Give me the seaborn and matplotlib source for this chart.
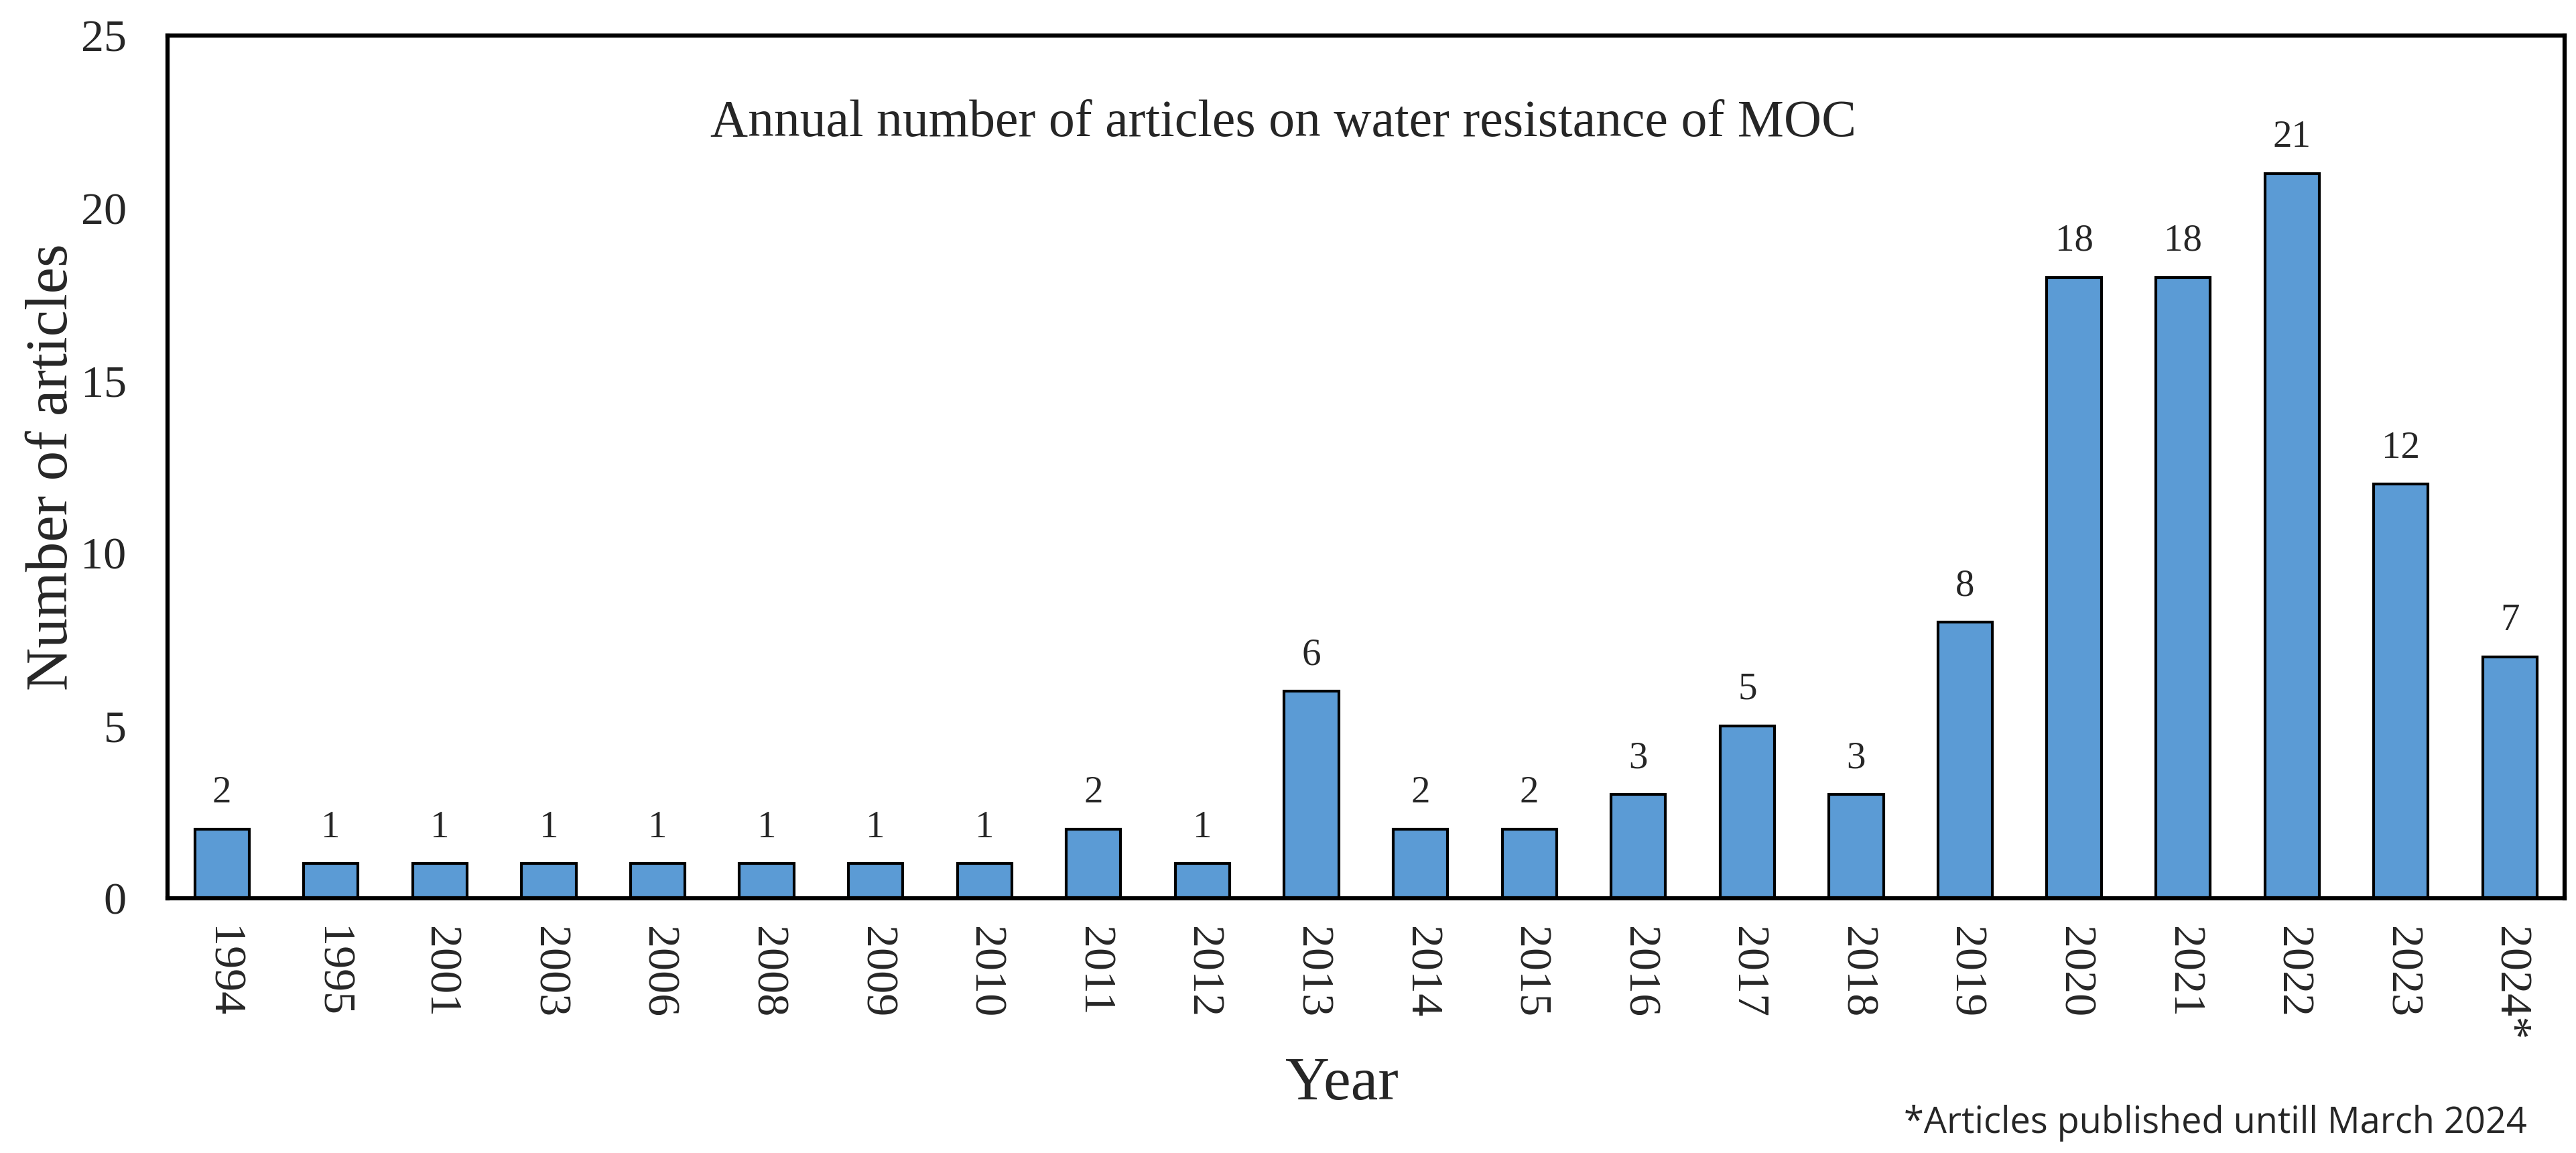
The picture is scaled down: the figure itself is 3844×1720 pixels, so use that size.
# Annual number of articles on water resistance of MOC - bar chart
import pandas as pd
import matplotlib
matplotlib.use("Agg")
import matplotlib.pyplot as plt
import seaborn as sns

# Data
years = ["1994", "1995", "2001", "2003", "2006", "2008", "2009", "2010", "2011",
         "2012", "2013", "2014", "2015", "2016", "2017", "2018", "2019", "2020",
         "2021", "2022", "2023", "2024*"]
articles = [2, 1, 1, 1, 1, 1, 1, 1, 2, 1, 6, 2, 2, 3, 5, 3, 8, 18, 18, 21, 12, 7]
y_ticks = [0, 5, 10, 15, 20, 25]

df = pd.DataFrame({"Year": years, "Articles": articles})

sns.set_style("white")
plt.rcParams["font.family"] = ["Liberation Serif", "DejaVu Serif"]

fig = plt.figure(figsize=(38.44, 17.2), dpi=100)
ax = fig.add_axes([0.065, 0.221, 0.9305, 0.748])

sns.barplot(data=df, x="Year", y="Articles", color="#5B9BD5", saturation=1,
            width=0.5, edgecolor="black", linewidth=3, ax=ax)

ax.bar_label(ax.containers[0], fontsize=41, padding=20)

ax.set_ylim(0, 25)
ax.set_xlim(-0.5, len(years) - 0.5)
ax.set_yticks(y_ticks)
ax.tick_params(axis="y", labelsize=49, length=0, pad=44)
ax.tick_params(axis="x", labelsize=49, length=0, pad=30, labelrotation=-90)

for s in ax.spines.values():
    s.set_visible(True)
    s.set_color("black")
    s.set_linewidth(4.5)

ax.set_xlabel("Year", fontsize=66)
ax.xaxis.set_label_coords(0.49, -0.184)
ax.set_ylabel("Number of articles", fontsize=64)
ax.yaxis.set_label_coords(-0.0366, 0.5)

ax.text(0.4656, 0.884, "Annual number of articles on water resistance of MOC",
        transform=ax.transAxes, ha="center", va="baseline", fontsize=56)

fig.text(0.981, 0.0174, "*Articles published untill March 2024",
         ha="right", va="baseline", fontsize=39, family=["Open Sans", "DejaVu Sans"])

fig.savefig("out.png", dpi=100, facecolor="white")
